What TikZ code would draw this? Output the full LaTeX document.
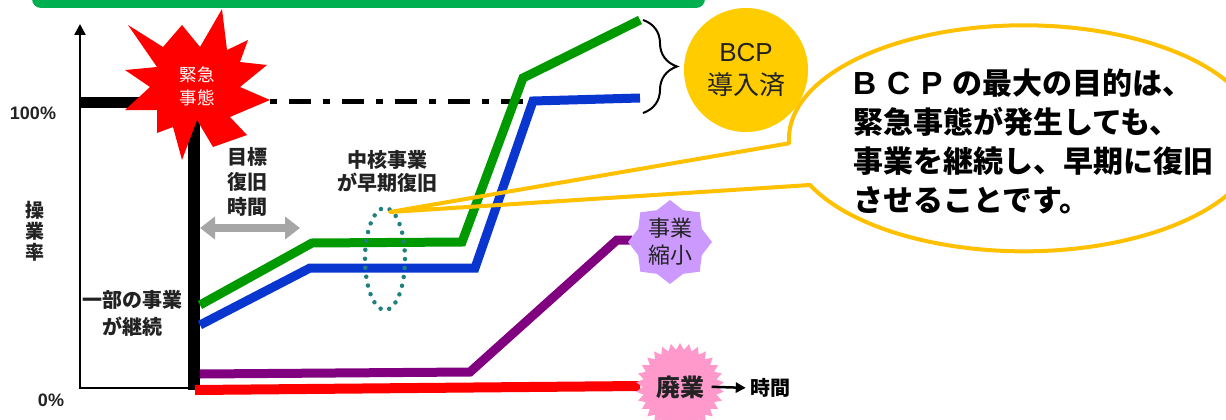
\documentclass[tikz,border=0pt]{standalone}
\usepackage{fontspec}
\newfontfamily\jp{Noto Sans CJK JP}
\newfontfamily\lat{Liberation Sans}
\usetikzlibrary{arrows.meta,shapes.geometric,decorations.pathreplacing}
\definecolor{barG}{HTML}{00B050}
\definecolor{lineG}{HTML}{009A00}
\definecolor{lineB}{HTML}{0A36D0}
\definecolor{lineP}{HTML}{800080}
\definecolor{lineR}{HTML}{FF0000}
\definecolor{yel}{HTML}{FFCC00}
\definecolor{orng}{HTML}{FFC000}
\definecolor{lav}{HTML}{CC99FF}
\definecolor{pnk}{HTML}{FF99CC}
\definecolor{grayA}{HTML}{A6A6A6}
\definecolor{tealD}{HTML}{1F8080}
\definecolor{txt}{HTML}{222222}
\tikzset{
  curve/.style={line width=9pt, line join=miter},
  lbl/.style={font=\jp\bfseries\fontsize{20}{25}\selectfont, text=txt, align=center, inner sep=0pt},
  pct/.style={font=\lat\bfseries\fontsize{18}{20}\selectfont, text=txt, inner sep=0pt},
}
\newcommand\wideL[1]{\makebox[34pt][l]{#1}}
\begin{document}
\begin{tikzpicture}[x=1pt,y=-1pt]
\useasboundingbox (0,0) rectangle (1226,420);
\clip (0,0) rectangle (1226,420);
\fill[white] (0,0) rectangle (1226,420);
% top bar
\fill[barG, rounded corners=9pt] (32,-30) rectangle (705,8);
% axis and box
\coordinate (axT) at (80,24);
\coordinate (axB) at (80,388);
\coordinate (boxR) at (196,388);
\draw[line width=2.5pt, -{Triangle[width=11pt,length=11pt]}] (boxR) -- (axB) -- (axT);
% labels
\node[pct] (p100) at (33,113) {100\%};
\node[pct] (p0) at (51,400) {0\%};
\node[lbl, font=\jp\bfseries\fontsize{19}{21}\selectfont] (sogyo) at (35,231) {操\\業\\率};
\node[lbl, font=\jp\bfseries\fontsize{20}{27}\selectfont] (ichibu) at (132,313) {一部の事業\\が継続};
% thick black
\draw[line width=11pt] (80,102) -- (160,102);
\draw[line width=5pt, dash pattern=on 22pt off 12pt on 7pt off 12pt] (236,101) -- (528,101);
\draw[line width=12pt] (194,115) -- (194,390);
% callout fill (behind lines)
\coordinate (tip) at (390,212);
\coordinate (cLow) at (810,185);
\fill[white] (tip) -- (cLow) arc[start angle=155.6, end angle=-182.5, x radius=235, y radius=113] -- cycle;
% BCP circle
\node[circle, fill=yel, minimum size=124pt, inner sep=0pt, align=center, text=txt,
      font=\jp\fontsize{26}{33}\selectfont] (bcp) at (746,70) {{\lat BCP}\\導入済};
% curves
\draw[curve, lineR, line width=10pt] (195,390) -- (640,386);
\draw[curve, lineP] (200,374) -- (470,372) -- (617,240) -- (632,240);
\draw[curve, lineB] (200,325) -- (310,268) -- (475,268) -- (533,101) -- (640,98);
\draw[curve, lineG] (200,305) -- (312,243) -- (462,242) -- (523,78) -- (640,20);
% brace
\draw[line width=2pt, decorate, decoration={brace, amplitude=34pt}] (643,20) -- (643,113);
% gray double arrow
\draw[grayA, line width=8pt, {Triangle[width=22pt,length=15pt]}-{Triangle[width=22pt,length=15pt]}] (200,228) -- (300,228);
\node[lbl] (mokuhyo) at (247,182) {目標\\復旧\\時間};
\node[lbl, font=\jp\bfseries\fontsize{20}{23}\selectfont] (chukaku) at (387,171) {中核事業\\が早期復旧};
% dotted ellipse
\draw[tealD, line width=4.5pt, dash pattern=on 0pt off 9pt, line cap=round] (385,259) ellipse [x radius=20, y radius=51];
% explosion
\fill[red] (182,25) -- (200,47) -- (222,9) -- (227,50) -- (248,40) -- (240,62) -- (267,65)
  -- (240,87) -- (270,100) -- (230,117) -- (247,135) -- (213,147) -- (197,120) -- (182,160)
  -- (173,127) -- (157,133) -- (157,110) -- (125,110) -- (150,87) -- (125,70) -- (157,67)
  -- (128,25) -- (163,47) -- cycle;
\node[font=\jp\fontsize{17.5}{23}\selectfont, text=white, align=center, inner sep=0pt] (emerg) at (197,86) {緊急\\事態};
% shrink star
\node[star, star points=8, star point ratio=1.22, fill=lav, minimum size=84pt, inner sep=0pt,
      align=center, text=txt, font=\jp\fontsize{22}{27}\selectfont] (shukusho) at (670,242) {事業\\縮小};
% closure burst
\node[star, star points=30, star point ratio=1.18, fill=pnk, minimum size=88pt, inner sep=0pt,
      text=txt, font=\jp\bfseries\fontsize{24}{28}\selectfont] (haigyo) at (680,387) {廃業};
\node[font=\jp\bfseries\fontsize{20}{24}\selectfont, text=black, inner sep=0pt] (jikan) at (770,388) {時間};
\draw[line width=2.5pt, -{Triangle[width=10pt,length=10pt]}, shorten <=-6pt, shorten >=4pt] (haigyo.east) -- (jikan.west);
% callout outline
\draw[orng, line width=4pt, line join=round] (tip) -- (cLow) arc[start angle=155.6, end angle=-182.5, x radius=235, y radius=113] -- cycle;
\node[font=\jp\bfseries\fontsize{30}{39}\selectfont, align=left, anchor=west, inner sep=0pt, text=black] (msg) at (853,141)
  {{\lat\bfseries\fontsize{32}{39}\selectfont\wideL{B}\wideL{C}\makebox[31pt][l]{P}}の最大の目的は、\\緊急事態が発生しても、\\事業を継続し、早期に復旧\\させることです。};
\end{tikzpicture}
\end{document}
